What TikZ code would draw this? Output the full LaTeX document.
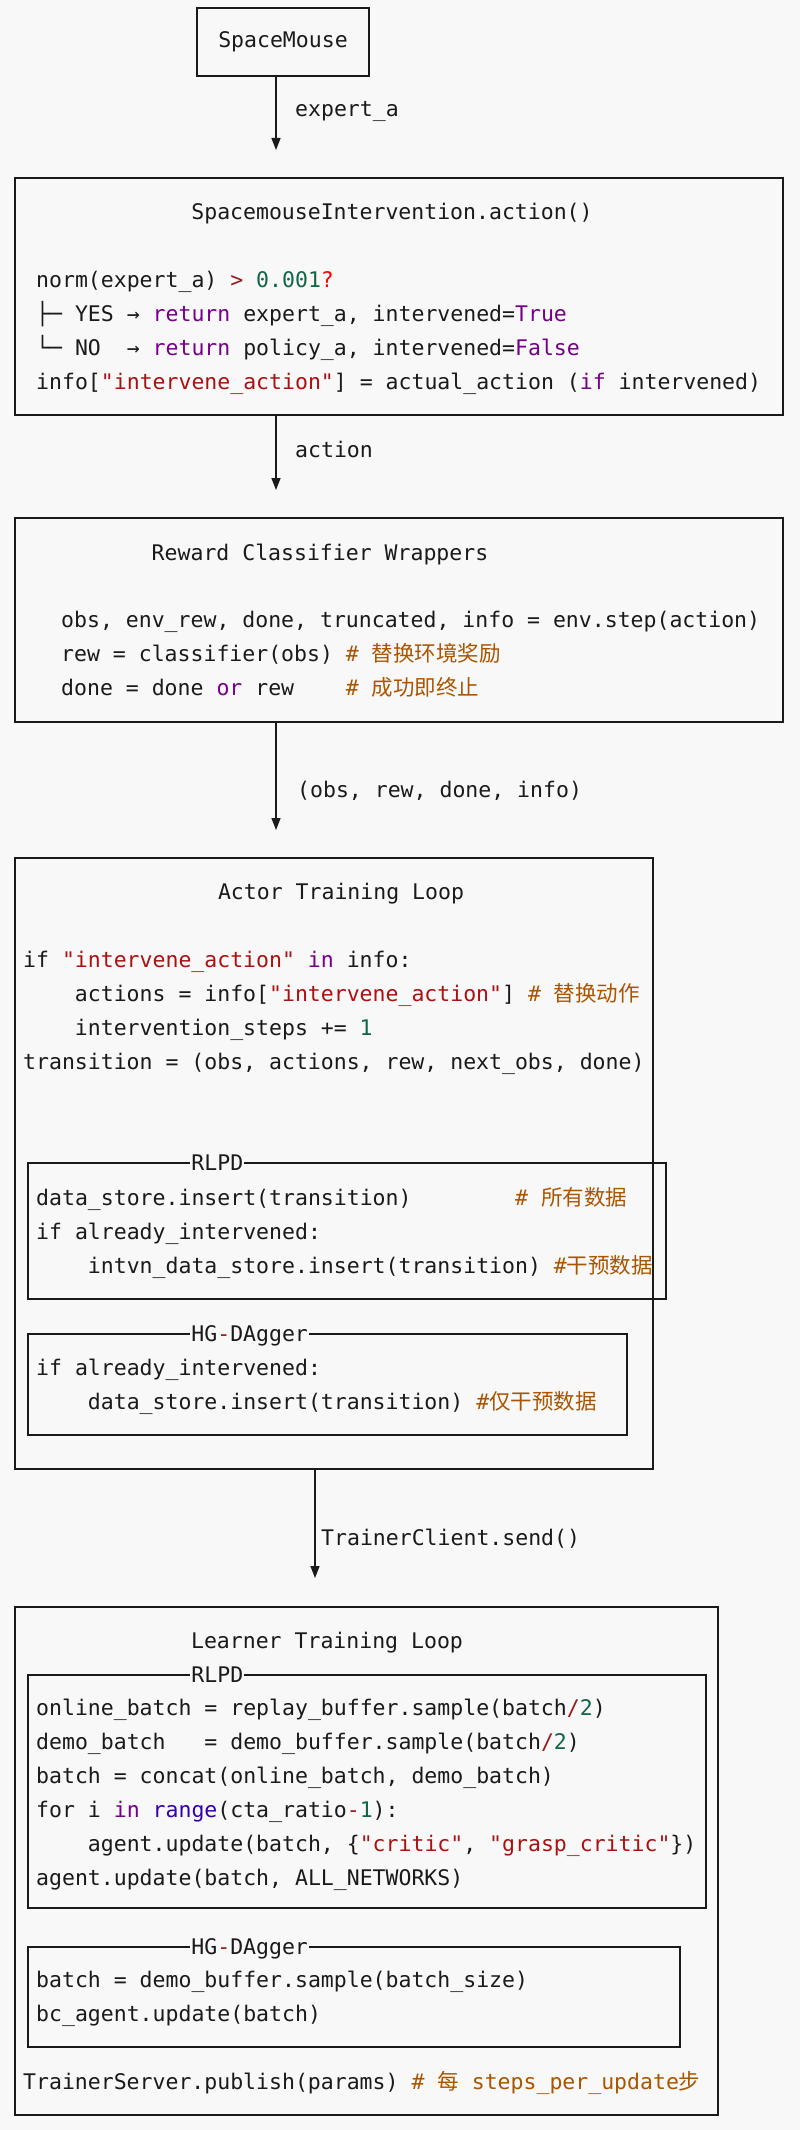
\documentclass[tikz,border=0pt]{standalone}
\usepackage{fontspec}
\setmonofont{DejaVu Sans Mono}
\newfontfamily\cjk{Noto Sans CJK SC}
\usepackage{tikz}
\usetikzlibrary{positioning, arrows.meta}

\definecolor{bgcol}{HTML}{F8F8F8}
\definecolor{inkcol}{HTML}{1A1A1A}
\definecolor{kwcol}{HTML}{770088}
\definecolor{strcol}{HTML}{AA1111}
\definecolor{numcol}{HTML}{116644}
\definecolor{opcol}{HTML}{981A1A}
\definecolor{errcol}{HTML}{FF0000}
\definecolor{cmcol}{HTML}{AA5500}
\definecolor{bicol}{HTML}{3300AA}
\newcommand{\kwd}[1]{\textcolor{kwcol}{#1}}
\newcommand{\strg}[1]{\textcolor{strcol}{#1}}
\newcommand{\numb}[1]{\textcolor{numcol}{#1}}
\newcommand{\oper}[1]{\textcolor{opcol}{#1}}
\newcommand{\errc}[1]{\textcolor{errcol}{#1}}
\newcommand{\cmnt}[1]{\textcolor{cmcol}{#1}}
\newcommand{\bltn}[1]{\textcolor{bicol}{#1}}

\begin{document}
\begin{tikzpicture}[x=1pt, y=-1pt, >={Triangle[width=9pt,length=12pt]},
    every node/.style={font=\ttfamily\fontsize{21.5}{34}\selectfont, text=inkcol},
    box/.style={draw=inkcol, line width=1.5pt, rectangle, inner sep=0pt},
    code/.style={anchor=base west, align=left, inner sep=0pt},
    title/.style={anchor=base, inner sep=0pt},
    tag/.style={anchor=base west, fill=bgcol, inner xsep=1pt, inner ysep=0pt},
    flow/.style={->, draw=inkcol, line width=1.5pt}]
    \path [use as bounding box, fill=bgcol] (0,0) rectangle (800,2130);

    % code blocks are anchored on the baseline of their last line
    \node [box, minimum width=172pt, minimum height=68pt] (mouse) at (283,42) {SpaceMouse};

    \node [box, minimum width=768pt, minimum height=237pt] (smi) at (399,296.5) {};
    \node [title] (smititle) at (392,219) {SpacemouseIntervention.action()};
    \node [code] (smicode) at (36,389) {norm(expert\_a) \oper{>} \numb{0.001}\errc{?}\\
        ├─ YES → \kwd{return} expert\_a, intervened=\kwd{True}\\
        └─ NO\ \ → \kwd{return} policy\_a, intervened=\kwd{False}\\
        info[\strg{"intervene\_action"}] = actual\_action (\kwd{if} intervened)};

    \node [box, minimum width=768pt, minimum height=204pt] (rcw) at (399,620) {};
    \node [title] (rcwtitle) at (320,560) {Reward Classifier Wrappers};
    \node [code] (rcwcode) at (61,695) {obs, env\_rew, done, truncated, info = env.step(action)\\
        rew = classifier(obs) \cmnt{\# {\cjk 替换环境奖励}}\\
        done = done \kwd{or} rew\ \ \ \ \cmnt{\# {\cjk 成功即终止}}};

    % actor side
    \node [box, minimum width=638pt, minimum height=611pt] (actor) at (334,1163.5) {};
    \node [title] (actortitle) at (341,899) {Actor Training Loop};
    \node [code] (actorcode) at (23,1069) {if \strg{"intervene\_action"} \kwd{in} info:\\
        \ \ \ \ actions = info[\strg{"intervene\_action"}] \cmnt{\# {\cjk 替换动作}}\\
        \ \ \ \ intervention\_steps += \numb{1}\\
        transition = (obs, actions, rew, next\_obs, done)};

    \node [box, minimum width=638pt, minimum height=136pt] (actorrlpd) at (347,1231) {};
    \node [tag] (actorrlpdtag) at ([xshift=163pt, yshift=-8pt]actorrlpd.north west) {RLPD};
    \node [code] (actorrlpdcode) at (36,1273) {data\_store.insert(transition)\ \ \ \ \ \ \ \ \cmnt{\# {\cjk 所有数据}}\\
        if already\_intervened:\\
        \ \ \ \ intvn\_data\_store.insert(transition) \cmnt{\#{\cjk 干预数据}}};

    \node [box, minimum width=599pt, minimum height=101pt] (actorhg) at (327.5,1384.5) {};
    \node [tag] (actorhgtag) at ([xshift=163pt, yshift=-8pt]actorhg.north west) {HG\oper{-}DAgger};
    \node [code] (actorhgcode) at (36,1409) {if already\_intervened:\\
        \ \ \ \ data\_store.insert(transition) \cmnt{\#{\cjk 仅干预数据}}};

    % learner side
    \node [box, minimum width=703pt, minimum height=508pt] (learner) at (366.5,1861) {};
    \node [title] (learnertitle) at (327,1648) {Learner Training Loop};

    \node [box, minimum width=678pt, minimum height=233pt] (learnerrlpd) at (367,1791.5) {};
    \node [tag] (learnerrlpdtag) at ([xshift=163pt, yshift=-8pt]learnerrlpd.north west) {RLPD};
    \node [code] (learnerrlpdcode) at (36,1885) {online\_batch = replay\_buffer.sample(batch\oper{/}\numb{2})\\
        demo\_batch\ \ \ = demo\_buffer.sample(batch\oper{/}\numb{2})\\
        batch = concat(online\_batch, demo\_batch)\\
        for i \kwd{in} \bltn{range}(cta\_ratio\oper{-}\numb{1}):\\
        \ \ \ \ agent.update(batch, \{\strg{"critic"}, \strg{"grasp\_critic"}\})\\
        agent.update(batch, ALL\_NETWORKS)};

    \node [box, minimum width=652pt, minimum height=100pt] (learnerhg) at (354,1997) {};
    \node [tag] (learnerhgtag) at ([xshift=163pt, yshift=-8pt]learnerhg.north west) {HG\oper{-}DAgger};
    \node [code] (learnerhgcode) at (36,2021) {batch = demo\_buffer.sample(batch\_size)\\
        bc\_agent.update(batch)};
    \node [code] (publish) at (23,2089) {TrainerServer.publish(params) \cmnt{\# {\cjk 每} steps\_per\_update{\cjk 步}}};

    % arrows between the stages
    \coordinate (tipa) at (276,150);
    \coordinate (tipb) at (276,490);
    \coordinate (tipc) at (276,830);
    \coordinate (tipd) at (315,1578);
    \draw [flow] (mouse.south -| tipa) -- (tipa);
    \draw [flow] (smi.south -| tipb) -- (tipb);
    \draw [flow] (rcw.south -| tipc) -- (tipc);
    \draw [flow] (actor.south -| tipd) -- (tipd);
    \node [code] (lblexpert) at (295,117) {expert\_a};
    \node [code] (lblaction) at (295,457) {action};
    \node [code] (lblstep) at (297,797) {(obs, rew, done, info)};
    \node [code] (lblsend) at (321,1545) {TrainerClient.send()};
\end{tikzpicture}
\end{document}
